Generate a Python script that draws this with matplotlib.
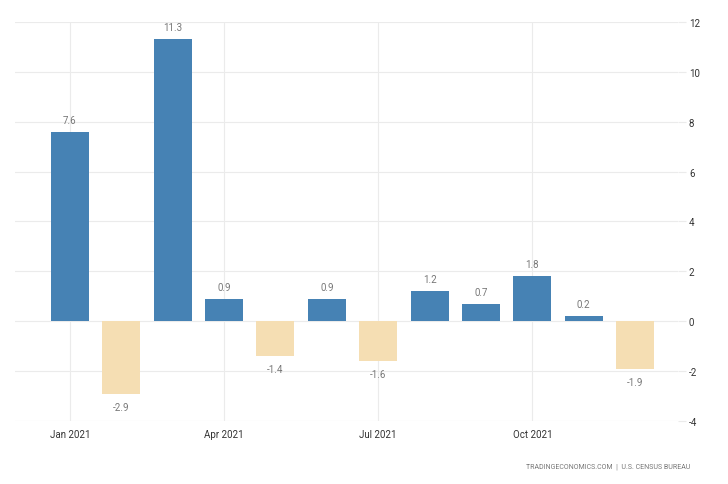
import numpy as np
import matplotlib.pyplot as plt

months = ['Jan', 'Feb', 'Mar', 'Apr', 'May', 'Jun', 'Jul', 'Aug', 'Sep', 'Oct', 'Nov', 'Dec']
values = [7.6, -2.9, 11.3, 0.9, -1.4, 0.9, -1.6, 1.2, 0.7, 1.8, 0.2, -1.9]
tick_pos = [0, 3, 6, 9]
tick_labels = ['Jan 2021', 'Apr 2021', 'Jul 2021', 'Oct 2021']
yticks = [-4, -2, 0, 2, 4, 6, 8, 10, 12]

plt.rcParams['font.family'] = ['Roboto', 'DejaVu Sans']

fig = plt.figure(figsize=(7.28, 4.85), dpi=100)
ax = fig.add_axes([0.0206, 0.13, 0.9104, 0.8226])

x = np.arange(len(values))
colors = ['#4682b4' if v >= 0 else '#f5deb3' for v in values]
ax.bar(x, values, width=0.74, color=colors, zorder=3)

for xi, v in zip(x, values):
    if v >= 0:
        ax.annotate(f'{v}', (xi, v), xytext=(0, 5), textcoords='offset points',
                    ha='center', va='bottom', fontsize=7, color='#777777')
    else:
        ax.annotate(f'{v}', (xi, v), xytext=(0, -6), textcoords='offset points',
                    ha='center', va='top', fontsize=7, color='#777777')

ax.set_xlim(-1.07, 11.83)
ax.set_ylim(-4, 12)
ax.set_xticks(tick_pos)
ax.set_xticklabels(tick_labels, fontsize=7, color='#333333')
ax.set_yticks(yticks)
ax.set_yticklabels([str(t) for t in yticks], fontsize=7, color='#333333')
ax.yaxis.tick_right()
ax.tick_params(axis='y', length=6, color='#ebebeb', pad=2)
ax.tick_params(axis='x', length=0, pad=6)
ax.grid(True, color='#ebebeb', linewidth=0.8, zorder=0)
for s in ax.spines.values():
    s.set_visible(False)

fig.text(0.948, 0.037, 'TRADINGECONOMICS.COM  |  U.S. CENSUS BUREAU', ha='right',
         va='center', fontsize=5, color='#777777')

fig.savefig('out.png', dpi=100)
